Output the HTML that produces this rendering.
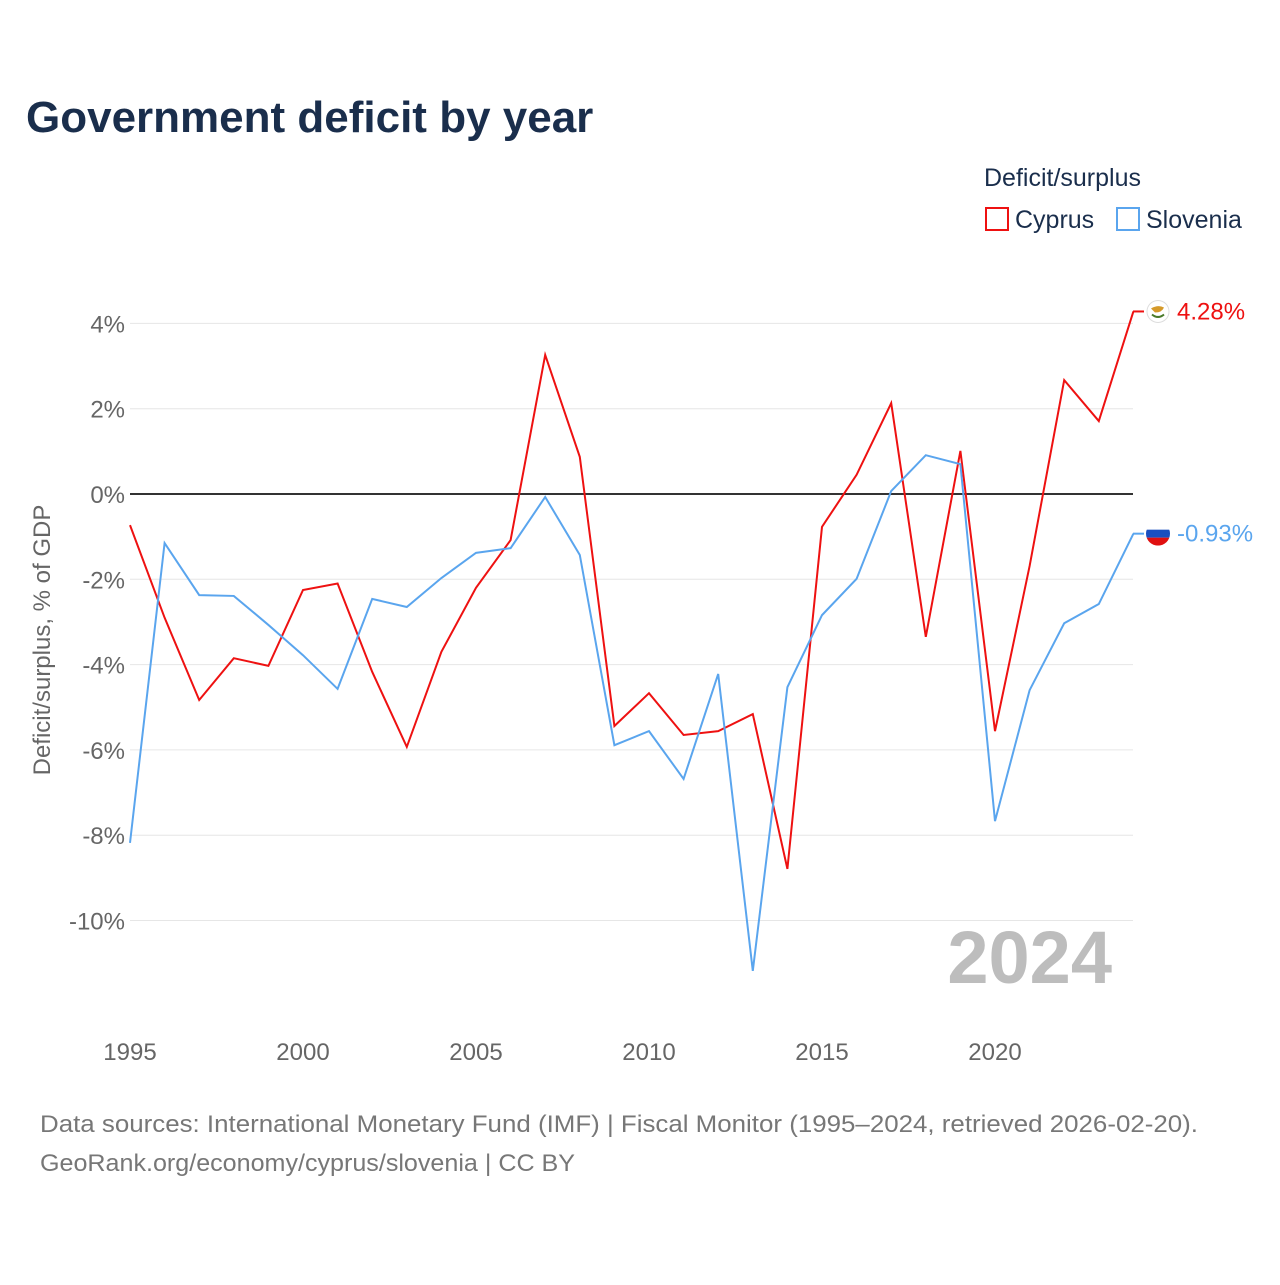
<!DOCTYPE html>
<html><head><meta charset="utf-8"><style>
body{margin:0;background:#fff;font-family:"Liberation Sans",sans-serif}
</style></head><body>
<svg id="chart" width="1280" height="1280" viewBox="0 0 1280 1280" xmlns="http://www.w3.org/2000/svg">
<defs><clipPath id="fc"><circle cx="1158" cy="534" r="12"/></clipPath></defs>
<text x="26" y="132" font-size="44" font-weight="bold" fill="#1a2e4c">Government deficit by year</text>
<text x="984" y="186" font-size="25" fill="#1a2e4c">Deficit/surplus</text>
<g><rect x="986" y="208" width="22" height="22" fill="none" stroke="#ee1111" stroke-width="2"/><text x="1015" y="228" font-size="25" fill="#1a2e4c">Cyprus</text></g>
<g><rect x="1117" y="208" width="22" height="22" fill="none" stroke="#5aa5ee" stroke-width="2"/><text x="1146" y="228" font-size="25" fill="#1a2e4c">Slovenia</text></g>
<g id="grid"></g><g id="xaxis"></g><g id="lines"></g>
<text x="1112" y="983" text-anchor="end" font-size="74" font-weight="bold" fill="#bdbdbd">2024</text>
<text transform="translate(50,640) rotate(-90)" text-anchor="middle" font-size="24" fill="#666">Deficit/surplus, % of GDP</text>
<text x="40" y="1132" font-size="24" fill="#777" textLength="1158" lengthAdjust="spacingAndGlyphs">Data sources: International Monetary Fund (IMF) | Fiscal Monitor (1995–2024, retrieved 2026-02-20).</text>
<text x="40" y="1171" font-size="24" fill="#777" textLength="535" lengthAdjust="spacingAndGlyphs">GeoRank.org/economy/cyprus/slovenia | CC BY</text>
</svg>
<script>
const years=[1995,1996,1997,1998,1999,2000,2001,2002,2003,2004,2005,2006,2007,2008,2009,2010,2011,2012,2013,2014,2015,2016,2017,2018,2019,2020,2021,2022,2023,2024];
const cyprus=[-0.73,-2.9,-4.83,-3.85,-4.03,-2.25,-2.1,-4.17,-5.93,-3.7,-2.2,-1.08,3.26,0.87,-5.44,-4.67,-5.65,-5.56,-5.16,-8.79,-0.77,0.45,2.13,-3.35,1.01,-5.56,-1.69,2.67,1.71,4.28];
const slovenia=[-8.18,-1.15,-2.37,-2.39,-3.07,-3.78,-4.57,-2.46,-2.65,-1.97,-1.38,-1.27,-0.07,-1.43,-5.89,-5.56,-6.68,-4.22,-11.18,-4.53,-2.84,-1.99,0.07,0.91,0.7,-7.67,-4.6,-3.03,-2.58,-0.93];
const yTicks=[4,2,0,-2,-4,-6,-8,-10];
const xTicks=[1995,2000,2005,2010,2015,2020];
const NS="http://www.w3.org/2000/svg";
const X=y=>130+(y-1995)*34.6;
const Y=v=>494-v*42.65;
function mk(t,a,p){const e=document.createElementNS(NS,t);for(const k in a)e.setAttribute(k,a[k]);p.appendChild(e);return e;}
const grid=document.getElementById('grid');
yTicks.forEach(v=>{
 const l=mk('line',{x1:130,x2:1133,y1:Y(v),y2:Y(v),stroke:v===0?'#333':'#e6e6e6','stroke-width':v===0?2:1},grid);
 
 
 const t=mk('text',{x:125,y:Y(v)+9,'text-anchor':'end','font-size':24,fill:'#666'},grid);
 t.textContent=v+'%';
 
 
});
const xa=document.getElementById('xaxis');
xTicks.forEach(y=>{
 const t=mk('text',{x:X(y),y:1060,'text-anchor':'middle','font-size':24,fill:'#666'},xa);
 t.textContent=y;
 
 
});
const lines=document.getElementById('lines');
function series(vals,color,name){
 const p=mk('polyline',{points:vals.map((v,i)=>X(years[i])+','+Y(v)).join(' '),fill:'none',stroke:color,'stroke-width':2},lines);
 
 
 const last=vals[vals.length-1];
 const cy=Y(last);
 mk('line',{x1:1133,x2:1144,y1:cy,y2:cy,stroke:color,'stroke-width':2},lines);
 const g=mk('g',{},lines);
 
 
 if(name==='cyprus'){
  mk('circle',{cx:1158,cy:cy,r:11,fill:'#fff',stroke:'#ddd'},g);
  mk('path',{d:`M1151 ${cy-3} q7 -4 13 -1 q-2 5 -9 5z`,fill:'#d59a2a'},g);
  mk('path',{d:`M1152 ${cy+3} q6 5 12 0`,fill:'none',stroke:'#4a7a2a','stroke-width':2},g);
 } else {
  const gg=mk('g',{transform:`translate(0,${cy-534})`},g);
  const gc=mk('g',{'clip-path':'url(#fc)'},gg);
  mk('rect',{x:1146,y:522,width:24,height:8,fill:'#fff'},gc);
  mk('rect',{x:1146,y:530,width:24,height:8,fill:'#1a4fc0'},gc);
  mk('rect',{x:1146,y:538,width:24,height:8,fill:'#e01010'},gc);
 }
 const t=mk('text',{x:1177,y:cy+8,'font-size':24,fill:color},lines);
 t.textContent=last.toFixed(2)+'%';
 
 
}
series(cyprus,'#ee1111','cyprus');
series(slovenia,'#5aa5ee','slovenia');
</script>
</body></html>
